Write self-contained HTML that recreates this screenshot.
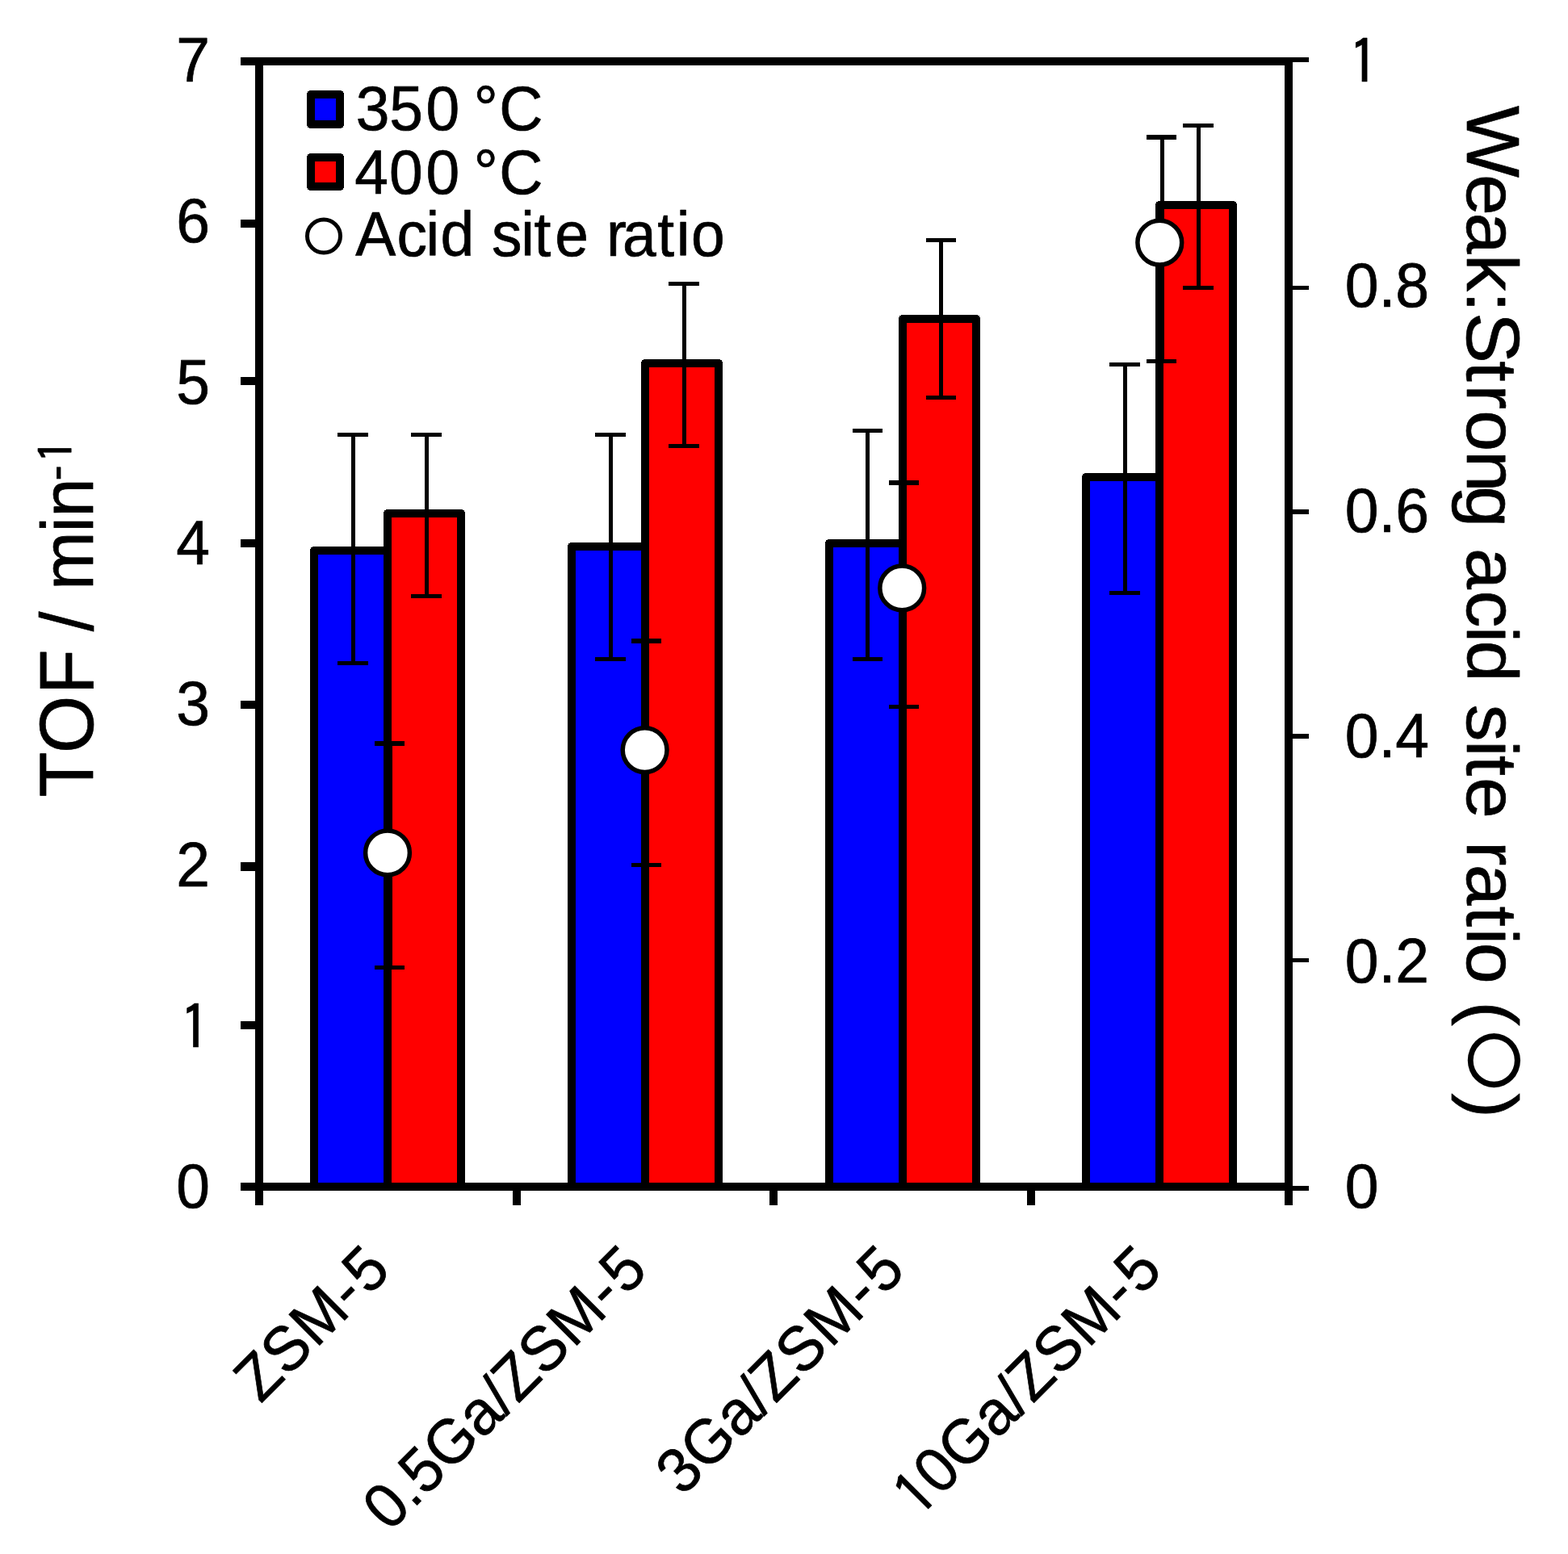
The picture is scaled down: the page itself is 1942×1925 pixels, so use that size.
<!DOCTYPE html>
<html lang="en"><head><meta charset="utf-8"><title>TOF and acid site ratio</title>
<style>html,body{margin:0;padding:0;background:#fff;}body{width:1942px;height:1925px;overflow:hidden;}svg{display:block;}text{font-family:"Liberation Sans", Arial, Helvetica, sans-serif;fill:#000;white-space:pre;stroke:#000;stroke-width:0.7px;stroke-linejoin:round;}</style>
</head><body>
<svg width="1942" height="1925" viewBox="0 0 1942 1925" shape-rendering="crispEdges">
<rect x="0" y="0" width="1942" height="1925" fill="#ffffff"/>
<g stroke="#000" stroke-width="10" stroke-linejoin="round">
<rect x="389" y="682" width="91" height="788" fill="#0000ff"/>
<rect x="480" y="636" width="91" height="834" fill="#ff0000"/>
<rect x="708" y="677" width="91" height="793" fill="#0000ff"/>
<rect x="799" y="450" width="91" height="1020" fill="#ff0000"/>
<rect x="1027" y="673" width="91" height="797" fill="#0000ff"/>
<rect x="1118" y="395" width="91" height="1075" fill="#ff0000"/>
<rect x="1345" y="591" width="91" height="879" fill="#0000ff"/>
<rect x="1436" y="254" width="91" height="1216" fill="#ff0000"/>
</g>
<g fill="#000">
<path d="M418 536h38v5h-16v278h16v5h-38v-5h17v-278h-17z"/>
<path d="M509 536h38v5h-16v195h16v5h-38v-5h17v-195h-17z"/>
<path d="M737 536h38v5h-16v273h16v5h-38v-5h17v-273h-17z"/>
<path d="M828 349h38v5h-16v196h16v5h-38v-5h17v-196h-17z"/>
<path d="M1056 531h37v5h-16v278h16v5h-37v-5h16v-278h-16z"/>
<path d="M1147 295h37v5h-16v190h16v5h-37v-5h16v-190h-16z"/>
<path d="M1374 449h38v5h-16v278h16v5h-38v-5h17v-278h-17z"/>
<path d="M1465 153h38v5h-16v196h16v5h-38v-5h17v-196h-17z"/>
<path d="M464 918h37v6h-15v272h15v5h-37v-5h17v-272h-17z"/>
<path d="M782 791h37v6h-15v272h15v5h-37v-5h17v-272h-17z"/>
<path d="M1101 595h37v6h-15v272h15v5h-37v-5h17v-272h-17z"/>
<path d="M1420 167h37v6h-15v272h15v5h-37v-5h17v-272h-17z"/>
</g>
<rect x="298" y="71" width="1303" height="10" fill="#000"/>
<rect x="298" y="1465" width="1303" height="10" fill="#000"/>
<rect x="316" y="71" width="10" height="1422" fill="#000"/>
<rect x="1591" y="71" width="10" height="1422" fill="#000"/>
<rect x="298" y="1265" width="18" height="10" fill="#000"/>
<rect x="298" y="1068" width="18" height="11" fill="#000"/>
<rect x="298" y="868" width="18" height="10" fill="#000"/>
<rect x="298" y="668" width="18" height="10" fill="#000"/>
<rect x="298" y="467" width="18" height="10" fill="#000"/>
<rect x="298" y="272" width="18" height="10" fill="#000"/>
<rect x="635" y="1475" width="10" height="18" fill="#000"/>
<rect x="953" y="1475" width="10" height="18" fill="#000"/>
<rect x="1272" y="1475" width="10" height="18" fill="#000"/>
<rect x="1601" y="71" width="20" height="6" fill="#000"/>
<rect x="1601" y="354" width="20" height="5" fill="#000"/>
<rect x="1601" y="631" width="20" height="6" fill="#000"/>
<rect x="1601" y="909" width="20" height="6" fill="#000"/>
<rect x="1601" y="1187" width="20" height="5" fill="#000"/>
<rect x="1601" y="1469" width="20" height="6" fill="#000"/>
<g stroke="#000" stroke-width="5.5" fill="#fff" shape-rendering="geometricPrecision">
<circle cx="480.0" cy="1056.4" r="27.4"/>
<circle cx="798.6" cy="929.1" r="27.4"/>
<circle cx="1117.2" cy="728.4" r="27.4"/>
<circle cx="1436.3" cy="300.6" r="27.4"/>
</g>
<g stroke="#000" stroke-width="10" stroke-linejoin="round">
<rect x="385" y="117" width="36" height="37" fill="#0000ff"/>
<rect x="385" y="195" width="36" height="36" fill="#ff0000"/>
</g>
<circle cx="401" cy="292.5" r="20.5" stroke="#000" stroke-width="5" fill="#fff" shape-rendering="geometricPrecision"/>
<text font-size="75" transform="translate(0 160.6) scale(1 1.045)"><tspan x="440.8 482.3 527.6 569.4 586.8 618.2" y="0">350 °C</tspan></text>
<text font-size="75" transform="translate(0 239.5) scale(1 1.045)"><tspan x="439.2 481.9 527.6 569.4 586.8 618.2" y="0">400 °C</tspan></text>
<text font-size="75" transform="translate(0 317.2) scale(1 1.03)"><tspan x="440.3 491.5 527.5 545.5 587.2 609.1 645.2 661.6 687.2 728.9 751.1 770.9 814.3 837.8 855.9" y="0">Acid site ratio</tspan></text>
<text font-size="75" transform="translate(218.3 1496.2) scale(1 1.045)"><tspan x="0" y="0">0</tspan></text>
<text font-size="75" transform="translate(218.3 1296.9) scale(1 1.045)"><tspan font-family="IPAGothic, 'Liberation Sans', sans-serif" font-size="73.9" x="4.7" y="3.8">1</tspan></text>
<text font-size="75" transform="translate(218.3 1097.5) scale(1 1.045)"><tspan x="0" y="0">2</tspan></text>
<text font-size="75" transform="translate(218.3 898.2) scale(1 1.045)"><tspan x="0" y="0">3</tspan></text>
<text font-size="75" transform="translate(218.3 698.8) scale(1 1.045)"><tspan x="0" y="0">4</tspan></text>
<text font-size="75" transform="translate(218.3 499.5) scale(1 1.045)"><tspan x="0" y="0">5</tspan></text>
<text font-size="75" transform="translate(218.3 300.1) scale(1 1.045)"><tspan x="0" y="0">6</tspan></text>
<text font-size="75" transform="translate(218.3 100.8) scale(1 1.045)"><tspan x="0" y="0">7</tspan></text>
<text font-size="75" transform="translate(1665.8 1496.2) scale(1 1.045)"><tspan x="0" y="0">0</tspan></text>
<text font-size="75" transform="translate(1665.8 1217.1) scale(1 1.045)"><tspan x="0 41.7 62.5" y="0">0.2</tspan></text>
<text font-size="75" transform="translate(1665.8 938) scale(1 1.045)"><tspan x="0 41.7 62.5" y="0">0.4</tspan></text>
<text font-size="75" transform="translate(1665.8 659) scale(1 1.045)"><tspan x="0 41.7 62.5" y="0">0.6</tspan></text>
<text font-size="75" transform="translate(1665.8 379.9) scale(1 1.045)"><tspan x="0 41.7 62.5" y="0">0.8</tspan></text>
<text font-size="75" transform="translate(1665.8 100.8) scale(1 1.045)"><tspan font-family="IPAGothic, 'Liberation Sans', sans-serif" font-size="73.9" x="4.7" y="3.8">1</tspan></text>
<text font-size="91.7" transform="translate(115 985.1) rotate(-90) scale(1 1.035)"><tspan x="-2.4 52 124.9 180.9" y="0">TOF </tspan><tspan font-size="88.9" x="202.9 228.4" y="0">/ </tspan><tspan font-size="87.1" x="254.1 325.6 344.4" y="0">min</tspan><tspan font-size="58" x="389.6" y="-25.9">-</tspan><tspan font-family="IPAGothic, 'Liberation Sans', sans-serif" font-size="57.1" x="412.1" y="-23">1</tspan></text>
<text font-size="91.7" transform="translate(1816.8 131.1) rotate(90) scale(1 0.975)"><tspan font-size="94.4" x="-0.2" y="0">W</tspan><tspan x="85 132.4 184 230.1" y="0">eak:</tspan><tspan font-size="94.4" x="255.8" y="0">S</tspan><tspan x="316.2 345.5 377.1 427.2 471.1 522.1 548 600.4 644.6 662.4 713.4 741.4 785.8 804.6 831.8 882.8 910.9 939.7 991.4 1018.7 1036.6 1087.5 1109.4" y="0">trong acid site ratio (</tspan><tspan font-family="NanumGothic, 'Noto Sans CJK JP', sans-serif" font-size="84.2" x="1142.9" y="-5.3" stroke-width="4.3">○</tspan><tspan x="1223.2" y="0">)</tspan></text>
<text font-size="75" transform="translate(482.4 1580) rotate(-45) scale(1 1.045)"><tspan x="-225.7 -179.4 -128.4 -64.9 -36.4" y="0">ZSM-5</tspan></text>
<text font-size="75" transform="translate(801.1 1580) rotate(-45) scale(1 1.045)"><tspan x="-450.8 -409.1 -388.3 -346.6 -288.2" y="0">0.5Ga</tspan><tspan font-size="72.8" x="-246.2" y="0">/</tspan><tspan x="-225.7 -179.4 -128.4 -64.9 -36.4" y="0">ZSM-5</tspan></text>
<text font-size="75" transform="translate(1119.9 1580) rotate(-45) scale(1 1.045)"><tspan x="-388.3 -346.6 -288.2" y="0">3Ga</tspan><tspan font-size="72.8" x="-246.2" y="0">/</tspan><tspan x="-225.7 -179.4 -128.4 -64.9 -36.4" y="0">ZSM-5</tspan></text>
<text font-size="75" transform="translate(1438.6 1580) rotate(-45) scale(1 1.045)"><tspan font-family="IPAGothic, 'Liberation Sans', sans-serif" font-size="73.9" x="-425.3" y="3.8">1</tspan><tspan x="-388.3 -346.6 -288.2" y="0">0Ga</tspan><tspan font-size="72.8" x="-246.2" y="0">/</tspan><tspan x="-225.7 -179.4 -128.4 -64.9 -36.4" y="0">ZSM-5</tspan></text>
</svg>
</body></html>
